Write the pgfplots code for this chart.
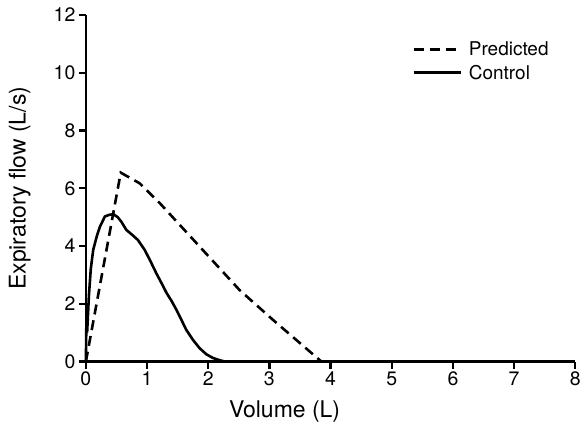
\documentclass[border=0pt]{standalone}
\usepackage{pgfplots}
\pgfplotsset{compat=1.18}
\usepackage{fontspec}
\setmainfont{TeX Gyre Heros}
\begin{document}
\begin{tikzpicture}
\begin{axis}[
  scale only axis,
  width=490pt, height=347pt,
  xmin=0, xmax=8, ymin=0, ymax=12,
  xtick={0,1,...,8}, ytick={0,2,...,12},
  axis x line*=bottom, axis y line*=left,
  axis line style={line width=2.6pt},
  tick style={line width=2.4pt, black},
  tick align=outside, major tick length=7pt,
  /pgf/number format/assume math mode=true,
  tick label style={font=\fontsize{19.5}{22}\selectfont},
  xlabel={Volume (L)}, ylabel={Expiratory flow (L/s)},
  label style={font=\fontsize{23}{26}\selectfont},
  xlabel style={at={(rel axis cs:0.406,-0.144)}, anchor=center},
  ylabel style={at={(rel axis cs:-0.135,0.5)}, anchor=center},
  clip=false,
  legend style={draw=none, fill=none, at={(rel axis cs:0.66,0.932)}, anchor=north west,
    font=\fontsize{19}{22}\selectfont, row sep=6pt,
    nodes={inner sep=1pt}},
  legend cell align=left,
  legend image code/.code={\draw[#1, line width=3.2pt] (0pt,0pt) -- (47pt,0pt); \path (53pt,0pt);},
]
\addplot[black, line width=2.6pt, dash pattern=on 10pt off 6pt] coordinates {
(0,0) (0.57,6.54) (0.88,6.17) (1.21,5.48) (1.86,3.98) (2.51,2.48) (3.06,1.44) (3.63,0.40) (3.85,0)
};
\addlegendentry{Predicted}
\addplot[black, line width=2.6pt] coordinates {
(0,0) (0.01,1.7) (0.02,1.0) (0.05,2.3) (0.08,3.2) (0.12,3.87) (0.18,4.35) (0.23,4.67) (0.31,5.02) (0.38,5.08) (0.45,5.1) (0.52,5.0) (0.58,4.84) (0.66,4.56) (0.75,4.4) (0.85,4.21) (0.96,3.87) (1.05,3.5) (1.15,3.06) (1.24,2.7) (1.32,2.37) (1.40,2.1) (1.48,1.79) (1.56,1.45) (1.64,1.10) (1.75,0.75) (1.86,0.46) (1.97,0.25) (2.08,0.12) (2.18,0.05) (2.27,0)
};
\addlegendentry{Control}
\path (rel axis cs:-0.1755,-0.2219) (rel axis cs:1.0163,1.0432);
\end{axis}
\end{tikzpicture}
\end{document}
